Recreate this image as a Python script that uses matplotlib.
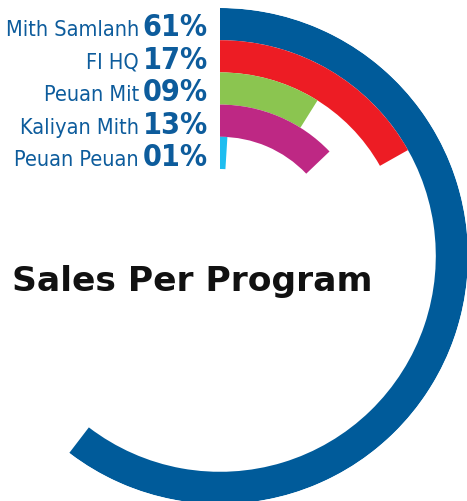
import matplotlib
matplotlib.use("Agg")
import matplotlib.pyplot as plt
import numpy as np

categories = ["Mith Samlanh", "FI HQ", "Peuan Mit", "Kaliyan Mith", "Peuan Peuan"]
values = [61, 17, 9, 13, 1]
pct_labels = ["61%", "17%", "09%", "13%", "01%"]
colors = ["#005b9a", "#ed1c24", "#8bc550", "#be2884", "#1ebdf0"]
title = "Sales Per Program"

W, H = 467, 501
fig = plt.figure(figsize=(W / 100, H / 100), dpi=100)

cx, cy = 220, 256   # centre in pixels (from top)
R = 248
band = 32.2
total = sum(values)

ax = fig.add_axes([(cx - R) / W, (H - cy - R) / H, 2 * R / W, 2 * R / H], projection="polar")
ax.set_theta_zero_location("N")
ax.set_theta_direction(-1)
ax.set_ylim(0, R)
ax.axis("off")
for i, (v, c) in enumerate(zip(values, colors)):
    outer = R - i * band
    ax.bar(0, band, width=np.deg2rad(v / total * 360), bottom=outer - band,
           align="edge", color=c, edgecolor="none", linewidth=0)

tx = fig.add_axes([0, 0, 1, 1])
tx.set_xlim(0, W)
tx.set_ylim(H, 0)
tx.axis("off")
tx.patch.set_alpha(0)

blue = "#0d5c9c"
for i, (name, pct) in enumerate(zip(categories, pct_labels)):
    base = 36 + i * 32.5
    tx.text(139, base, name, ha="right", va="baseline", fontsize=15.6,
            family="DejaVu Sans", fontstretch="condensed", color=blue)
    tx.text(208, base, pct, ha="right", va="baseline", fontsize=21.8,
            family="DejaVu Sans", fontstretch="condensed", fontweight="bold", color=blue)

tx.text(12, 291, title, ha="left", va="baseline", fontsize=24.8,
        family="DejaVu Sans", fontweight="bold", color="#111111")

fig.savefig("out.png", dpi=100)
